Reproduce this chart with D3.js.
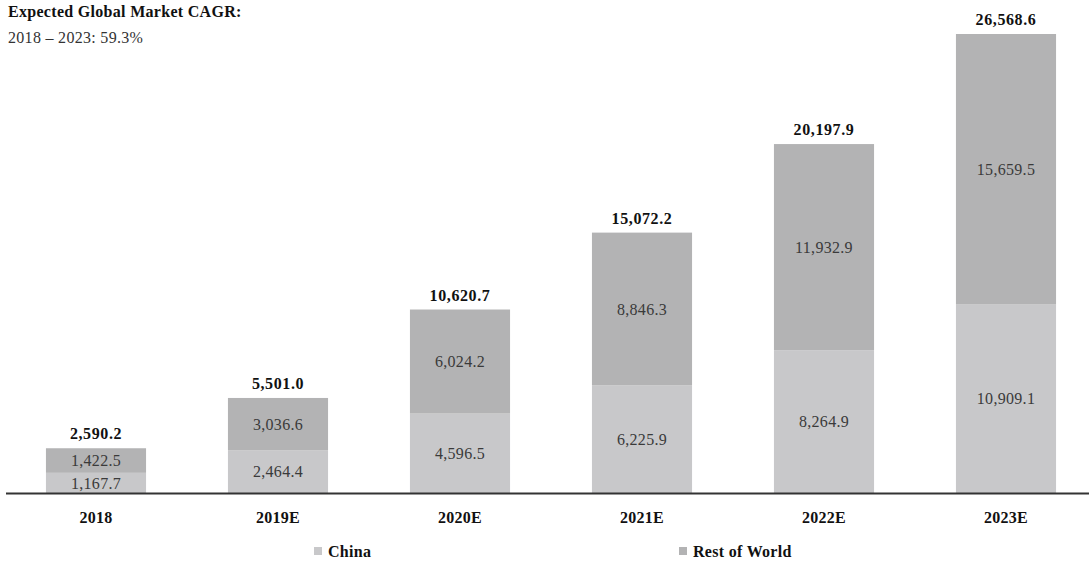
<!DOCTYPE html>
<html>
<head>
<meta charset="utf-8">
<script src="https://cdn.jsdelivr.net/npm/d3@7/dist/d3.min.js"></script>
<style>
  html, body { margin: 0; padding: 0; background: #fff; }
  svg { display: block; font-family: "Liberation Serif", "Times New Roman", serif; }
</style>
</head>
<body>
<svg id="chart" width="1089" height="567"></svg>
<script>
// Market size by year, split into China and Rest of World
const categories = ["2018", "2019E", "2020E", "2021E", "2022E", "2023E"];
const china = [1167.7, 2464.4, 4596.5, 6225.9, 8264.9, 10909.1];
const restOfWorld = [1422.5, 3036.6, 6024.2, 8846.3, 11932.9, 15659.5];
const totals = [2590.2, 5501.0, 10620.7, 15072.2, 20197.9, 26568.6];
const seriesNames = ["China", "Rest of World"];
const titleLines = ["Expected Global Market CAGR:", "2018 \u2013 2023: 59.3%"];

const colors = { "China": "#c8c8ca", "Rest of World": "#b3b3b4" };

const svg = d3.select("#chart");
const baseY = 493;

const x = d3.scaleBand()
  .domain(categories)
  .range([5, 1097])
  .paddingInner(0.45)
  .paddingOuter(0.225);

const y = d3.scaleLinear()
  .domain([0, d3.max(totals)])
  .range([baseY, 34]);

const rows = categories.map((c, i) => ({
  cat: c, "China": china[i], "Rest of World": restOfWorld[i], total: totals[i]
}));
const stacked = d3.stack().keys(seriesNames)(rows);

const fmt = d3.format(",.1f");

// stacked bars
const layers = svg.append("g").selectAll("g")
  .data(stacked).join("g")
  .attr("fill", d => colors[d.key]);

layers.selectAll("rect")
  .data(d => d).join("rect")
  .attr("x", d => x(d.data.cat))
  .attr("y", d => y(d[1]))
  .attr("width", x.bandwidth())
  .attr("height", d => y(d[0]) - y(d[1]));

// segment value labels
layers.each(function(layer) {
  d3.select(this).selectAll("text")
    .data(layer).join("text")
    .attr("x", d => x(d.data.cat) + x.bandwidth() / 2)
    .attr("y", d => (y(d[0]) + y(d[1])) / 2)
    .attr("dy", "0.35em")
    .attr("text-anchor", "middle")
    .attr("font-size", 16)
    .attr("letter-spacing", 0.3)
    .attr("fill", "#3a3a3a")
    .text(d => fmt(d.data[layer.key]));
});

// totals above bars
svg.append("g").selectAll("text")
  .data(rows).join("text")
  .attr("x", d => x(d.cat) + x.bandwidth() / 2)
  .attr("y", d => y(d.total) - 9)
  .attr("text-anchor", "middle")
  .attr("font-size", 16)
  .attr("letter-spacing", 0.6)
  .attr("font-weight", "bold")
  .attr("fill", "#111")
  .text(d => fmt(d.total));

// baseline axis
const axis = svg.append("g")
  .attr("transform", `translate(0,${baseY})`)
  .call(d3.axisBottom(x).tickSize(0).tickPadding(19));
axis.select(".domain").remove();
axis.append("line")
  .attr("x1", 6).attr("x2", 1089)
  .attr("y1", 0.5).attr("y2", 0.5)
  .attr("stroke", "#333").attr("stroke-width", 2);
axis.selectAll(".tick text")
  .attr("font-family", "Liberation Serif, serif")
  .attr("font-size", 16)
  .attr("letter-spacing", 0.3)
  .attr("font-weight", "bold")
  .attr("fill", "#111");

// title
svg.append("text")
  .attr("x", 8).attr("y", 17)
  .attr("font-size", 16).attr("letter-spacing", 0.3)
  .attr("font-weight", "bold").attr("fill", "#111")
  .text(titleLines[0]);
svg.append("text")
  .attr("x", 8).attr("y", 43)
  .attr("font-size", 16).attr("letter-spacing", 0.3).attr("fill", "#333")
  .text(titleLines[1]);

// legend
const legendX = [314, 679];
const legend = svg.append("g").selectAll("g")
  .data(seriesNames).join("g")
  .attr("transform", (d, i) => `translate(${legendX[i]},551)`);
legend.append("rect")
  .attr("x", 0).attr("y", -4)
  .attr("width", 8).attr("height", 8)
  .attr("fill", d => colors[d]);
legend.append("text")
  .attr("x", 14).attr("dy", "0.35em")
  .attr("font-size", 16).attr("letter-spacing", 0.3)
  .attr("font-weight", "bold").attr("fill", "#111")
  .text(d => d);
</script>
</body>
</html>
